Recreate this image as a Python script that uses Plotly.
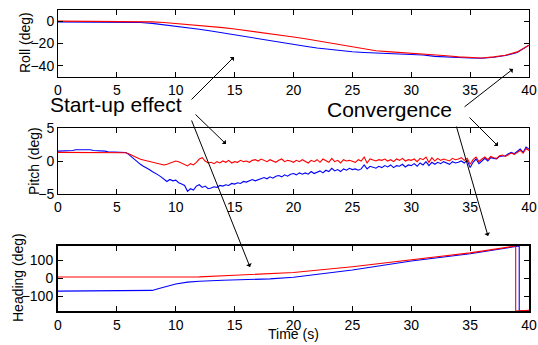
import plotly.graph_objects as go

# ---------------- data ----------------
roll_t = list(range(0, 41))
roll_red = [0, 0, 0, 0, 0, 0, 0, -0.2, -0.6, -1.2, -2.0, -2.8, -3.6, -4.6, -5.8, -7.0,
            -8.3, -9.8, -11.2, -12.7, -14.2, -15.8, -17.6, -19.6, -21.6, -23.5, -25.0,
            -26.5, -27.3, -28.0, -28.5, -29.0, -30.0, -31.0, -32.0, -32.5, -33.0, -32.0,
            -30.5, -27.5, -21.5]
roll_blue = [-0.6, -0.6, -0.6, -0.6, -0.6, -0.6, -0.8, -1.2, -2.0, -3.2, -4.5, -5.8, -7.3,
             -8.8, -10.5, -12.3, -14.2, -16.2, -17.8, -19.5, -21.0, -22.5, -24.0, -25.3,
             -26.5, -27.4, -28.0, -28.5, -29.0, -29.4, -29.8, -30.3, -31.5, -32.3, -32.5,
             -33.0, -33.2, -32.3, -30.8, -28.0, -21.5]

pitch_t = [i * 0.25 for i in range(161)]
pitch_red = [
    1.3, 1.3, 1.3, 1.3,
    1.3, 1.3, 1.3, 1.3,
    1.3, 1.3, 1.3, 1.3,
    1.3, 1.3, 1.3, 1.3,
    1.3, 1.3, 1.3, 1.3,
    1.3, 1.3, 1.3, 1.25,
    1.1, 0.9, 0.6, 0.4,
    0.25, 0.15, 0.05, -0.05,
    -0.15, -0.3, -0.45, -0.55,
    -0.6, -0.5, -0.3, -0.1,
    0.0, -0.1, -0.3, -0.5,
    -0.75, -0.4, -0.6, -0.2,
    0.3, 0.5, 0.0, -0.3,
    -0.2, -0.4, -0.1, -0.3,
    0.0, -0.2, 0.1, -0.3,
    -0.1, -0.2, 0.1, -0.1,
    0.0, -0.2, 0.1, 0.2,
    0.0, 0.3, 0.1, -0.1,
    0.2, 0.0, -0.2, 0.1,
    0.3, -0.1, 0.1, 0.0,
    -0.2, 0.1, -0.1, 0.2,
    0.0, -0.3, 0.1, -0.1,
    0.2, -0.2, 0.3, 0.0,
    -0.2, 0.4, -0.1, 0.1,
    -0.3, 0.2, 0.0, 0.1,
    0.0, -0.2, 0.2, 0.0,
    0.6, -0.3, 0.3, 0.1,
    0.0, 0.2, 0.1, 0.3,
    0.0, 0.2, -0.1, 0.3,
    0.1, 0.4, 0.0, 0.2,
    0.1, 0.3, -0.1, 0.4,
    0.2, 0.6, -0.2, 0.5,
    0.0, 0.4, 0.1, 0.3,
    0.2, 0.0, 0.4, 0.2,
    0.3, 0.5, 0.1, 0.4,
    -0.5, 0.2, 0.6, -0.1,
    0.3, 0.6, 0.2, 0.7,
    0.5, 0.4, 0.8, 0.9,
    0.7, 1.0, 1.2, 1.0,
    1.3, 1.6, 1.2, 1.9,
    1.6]
pitch_blue = [
    1.5, 1.5, 1.6, 1.5,
    1.6, 1.6, 1.7, 1.7,
    1.8, 1.7, 1.8, 1.7,
    1.6, 1.6, 1.5, 1.6,
    1.5, 1.4, 1.4, 1.3,
    1.4, 1.3, 1.4, 1.3,
    1.0, 0.6, 0.2, -0.2,
    -0.5, -0.8, -1.0, -1.3,
    -1.6, -1.8, -2.1, -2.4,
    -2.7, -3.1, -2.8, -3.0,
    -2.9, -3.3, -3.5, -3.7,
    -4.6, -4.2, -4.4, -3.8,
    -3.6, -4.0, -3.8, -4.2,
    -4.1, -3.9, -4.0, -3.7,
    -3.8, -3.6, -3.7, -3.4,
    -3.5, -3.3, -3.4, -3.1,
    -3.2, -3.0, -2.8, -3.0,
    -2.8, -2.6, -2.5, -2.7,
    -2.4, -2.6, -2.3, -2.2,
    -2.4, -2.1, -2.3, -2.0,
    -1.9, -2.1, -1.8, -2.0,
    -1.8, -2.0, -1.6, -1.9,
    -1.7, -1.5, -1.8, -1.4,
    -1.6, -1.1, -1.5, -1.3,
    -1.6, -1.2, -1.4, -1.1,
    -1.3, -1.2, -1.4, -1.2,
    -0.6, -1.2, -0.8, -1.0,
    -1.1, -0.8, -1.0, -0.7,
    -0.9, -0.6, -1.0, -0.7,
    -0.8, -0.5, -0.9, -0.6,
    -0.7, -0.4, -0.8, -0.3,
    -0.6, -0.1, -0.7, -0.2,
    -0.5, -0.2, -0.4, -0.1,
    -0.3, -0.5, -0.1, -0.3,
    -0.2, 0.0, -0.3, 0.1,
    -1.0, -0.2, 0.3, -0.4,
    0.0, 0.4, 0.0, 0.5,
    0.4, 0.3, 0.7, 0.8,
    0.8, 1.1, 1.3, 1.1,
    1.5, 1.8, 1.3, 2.1,
    1.8]

head_red_t = [0, 12, 15, 18, 20, 25, 30, 35, 38.87, 38.87, 40]
head_red = [8, 9, 18, 26, 33, 65, 103, 142, 180, -180, -176]
head_blue_t = [0, 7.5, 8, 8.5, 9, 9.5, 10, 11, 12, 14, 16, 18, 20, 25, 30, 35,
               39.17, 39.17, 40]
head_blue = [-70, -70, -66, -57, -47, -38, -30, -20, -15, -10, -6, -2, 7, 47, 97,
             137, 180, -180, -177]

x_ticks = [0, 5, 10, 15, 20, 25, 30, 35, 40]

# ---------------- figure ----------------
RED = "#ff0000"
BLUE = "#0000ff"
FONT = "Liberation Sans, Arial, sans-serif"

fig = go.Figure()
lw = 1.1
fig.add_trace(go.Scatter(x=roll_t, y=roll_blue, mode="lines", line=dict(color=BLUE, width=lw), xaxis="x", yaxis="y"))
fig.add_trace(go.Scatter(x=roll_t, y=roll_red, mode="lines", line=dict(color=RED, width=lw), xaxis="x", yaxis="y"))
fig.add_trace(go.Scatter(x=pitch_t, y=pitch_blue, mode="lines", line=dict(color=BLUE, width=lw), xaxis="x2", yaxis="y2"))
fig.add_trace(go.Scatter(x=pitch_t, y=pitch_red, mode="lines", line=dict(color=RED, width=lw), xaxis="x2", yaxis="y2"))
fig.add_trace(go.Scatter(x=head_blue_t, y=head_blue, mode="lines", line=dict(color=BLUE, width=lw), xaxis="x3", yaxis="y3"))
fig.add_trace(go.Scatter(x=head_red_t, y=head_red, mode="lines", line=dict(color=RED, width=lw), xaxis="x3", yaxis="y3"))

# full-window figure (the page's body margin is removed in post_script below)
W, H = 538, 345
PL, PR, PT, PB = 58, 529, 10, 311          # plot-area box in window pixels
ML, MR, MT, MB = PL, W - PR, PT, H - PB
PW = PR - PL
PH = PB - PT


def px(x):
    return (x - PL) / PW


def py(y):
    return (PB - y) / PH


def xax(anchor, lw_):
    return dict(range=[0, 40], tickvals=x_ticks, ticks="inside", ticklen=5, tickcolor="black",
                showline=True, linecolor="black", linewidth=lw_, mirror="ticks",
                showgrid=False, zeroline=False, anchor=anchor, automargin=False,
                ticklabeloverflow="allow",
                tickfont=dict(family=FONT, size=14, color="black"))


def yax(anchor, dom, rng, tv, lw_):
    return dict(domain=dom, range=rng, tickvals=tv, ticks="inside", ticklen=5, tickcolor="black",
                showline=True, linecolor="black", linewidth=lw_, mirror="ticks",
                showgrid=False, zeroline=False, anchor=anchor, automargin=False,
                tickfont=dict(family=FONT, size=14, color="black"))


fig.update_layout(
    width=W, height=H, margin=dict(l=ML, r=MR, t=MT, b=MB, autoexpand=False),
    paper_bgcolor="white", plot_bgcolor="white", showlegend=False,
    xaxis=xax("y", 1),
    xaxis2=xax("y2", 1),
    xaxis3=xax("y3", 2),
    yaxis=yax("x", [py(77), 1.0], [-50, 10], [-40, -20, 0], 1),
    yaxis2=yax("x2", [py(194), py(128)], [-5, 5], [-5, 0, 5], 1),
    yaxis3=yax("x3", [0, py(246)], [-180, 180], [-100, 0, 100], 2),
)

# axis titles
TFONT = dict(family=FONT, size=14, color="black")
for txt, cx, cy in [("Roll (deg)", 25, 43), ("Pitch (deg)", 34, 161), ("Heading (deg)", 18, 278)]:
    fig.add_annotation(x=px(cx), y=py(cy), xref="paper", yref="paper", text=txt, textangle=-90,
                       showarrow=False, font=TFONT, xanchor="center", yanchor="middle")
fig.add_annotation(x=px(293), y=py(334), xref="paper", yref="paper", text="Time (s)",
                   showarrow=False, font=TFONT, xanchor="center", yanchor="middle")

arrows = [
    ((234, 57), (190, 101)),
    ((226, 144), (194, 113)),
    ((250, 267), (191, 119)),
    ((513, 69), (463, 108)),
    ((498, 146), (468, 116)),
    ((488, 236), (456, 125)),
]
for (hx, hy), (tx, ty) in arrows:
    fig.add_annotation(x=px(hx), y=py(hy), xref="paper", yref="paper", text="",
                       showarrow=True, ax=tx - hx, ay=ty - hy, axref="pixel", ayref="pixel",
                       arrowhead=1, arrowsize=1, arrowwidth=1, arrowcolor="black", standoff=0)

fig.add_annotation(x=px(116), y=py(105), xref="paper", yref="paper", text="Start-up effect",
                   showarrow=False, font=dict(family=FONT, size=21, color="black"),
                   xanchor="center", yanchor="middle")
fig.add_annotation(x=px(389), y=py(110), xref="paper", yref="paper", text="Convergence",
                   showarrow=False, font=dict(family=FONT, size=21, color="black"),
                   xanchor="center", yanchor="middle")

fig.write_html(
    "out.html",
    config={"displayModeBar": False},
    post_script=("document.body.style.margin='0';document.body.style.overflow='hidden';"
                 "document.documentElement.style.overflow='hidden';"),
)
